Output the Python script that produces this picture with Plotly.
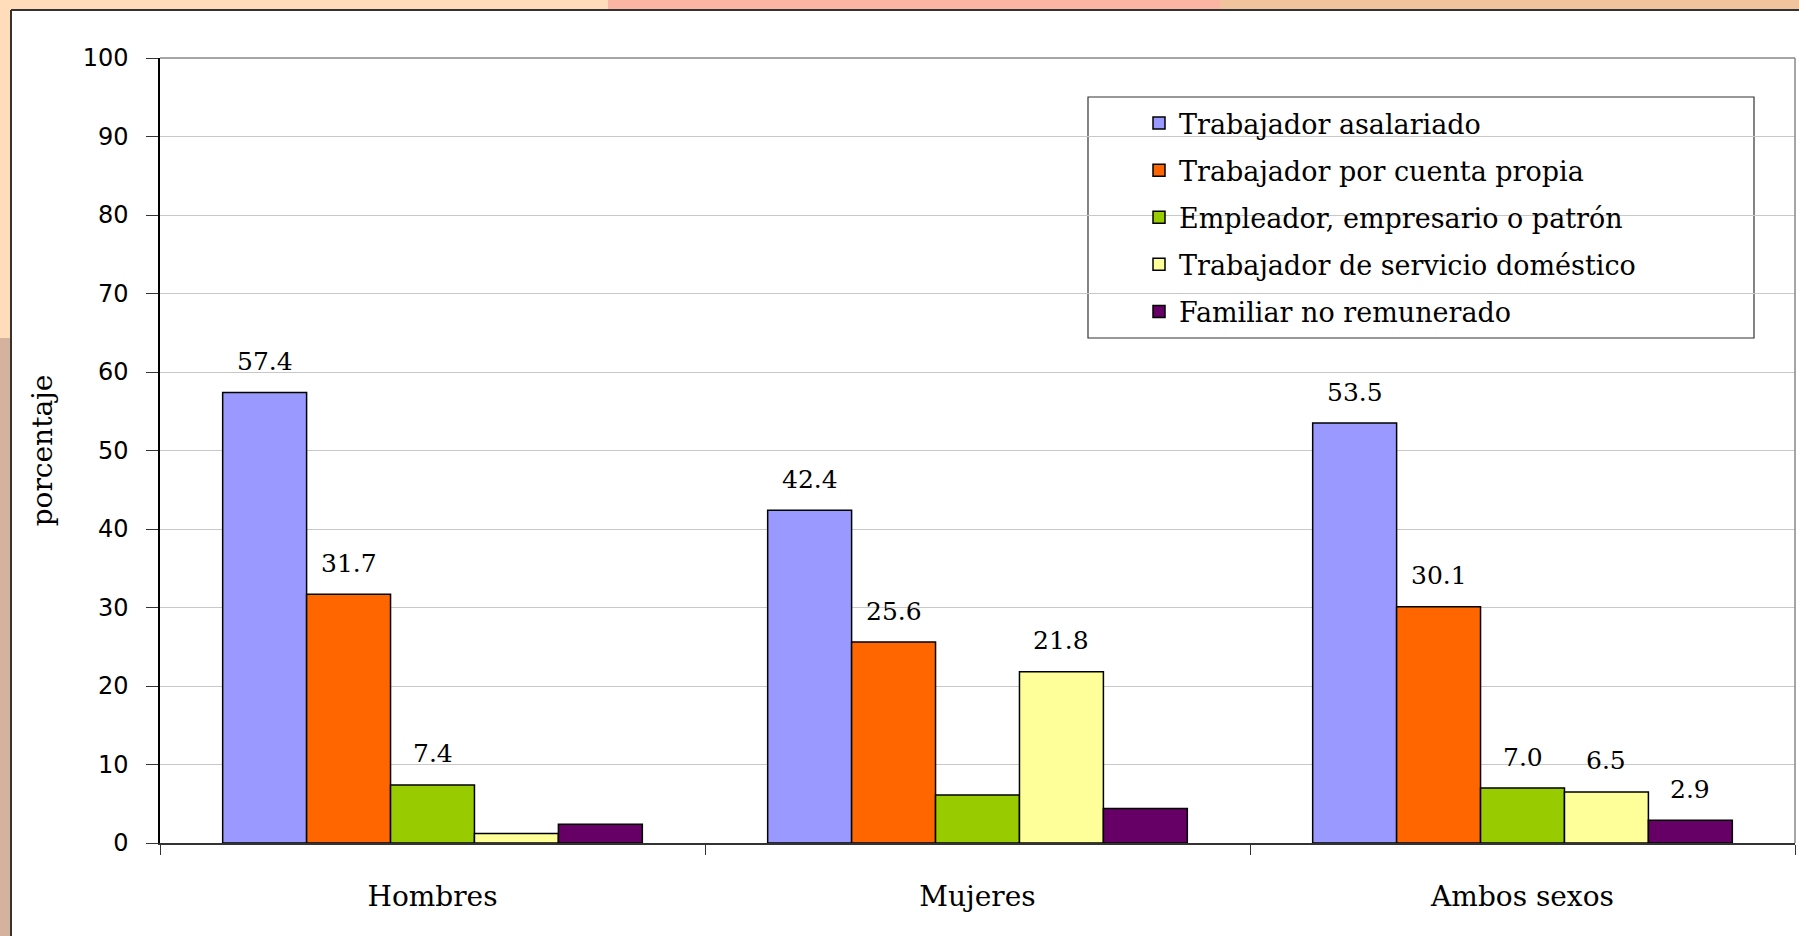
import plotly.graph_objects as go

categories = ["Hombres", "Mujeres", "Ambos sexos"]
series_names = [
    "Trabajador asalariado",
    "Trabajador por cuenta propia",
    "Empleador, empresario o patrón",
    "Trabajador de servicio doméstico",
    "Familiar no remunerado",
]
asalariado = [57.4, 42.4, 53.5]
cuenta_propia = [31.7, 25.6, 30.1]
empleador = [7.4, 6.1, 7.0]
domestico = [1.2, 21.8, 6.5]
familiar = [2.4, 4.4, 2.9]
series_values = [asalariado, cuenta_propia, empleador, domestico, familiar]
# which value labels are printed in the original
shown_labels = [
    [True, True, True],
    [True, True, True],
    [True, False, True],
    [False, True, True],
    [False, False, True],
]
y_ticks = list(range(0, 101, 10))
colors = ["#9999FF", "#FF6600", "#99CC00", "#FFFF99", "#660066"]

W, H = 1799, 936
ML, MR, MT, MB = 160, 4, 58, 93
PW = W - ML - MR
PH = H - MT - MB
BARGAP = 0.23
bar_px = PW / len(categories) * (1 - BARGAP) / len(series_names)


def px_x(px):
    return (px - ML) / PW


def px_y(py):
    return (H - MB - py) / PH


fig = go.Figure()
for i, (name, vals) in enumerate(zip(series_names, series_values)):
    fig.add_trace(go.Bar(
        name=name, x=categories, y=vals,
        marker=dict(color=colors[i], line=dict(color="#000000", width=1.5)),
        legendgroup=f"g{i}",
        hoverinfo="x+y+name",
    ))

annotations = []
for i, vals in enumerate(series_values):
    for j, v in enumerate(vals):
        if shown_labels[i][j]:
            annotations.append(dict(
                x=categories[j], y=v, xref="x", yref="y",
                text=f"{v:.1f}", showarrow=False,
                xshift=(i - 2) * bar_px, yshift=31,
                font=dict(family="DejaVu Serif", size=25, color="#000000"),
            ))

shapes = [
    # top strip
    dict(type="rect", xref="paper", yref="paper", x0=px_x(0), x1=px_x(608), y0=px_y(0), y1=px_y(10),
         fillcolor="#FFDDBB", line=dict(width=0), layer="below"),
    dict(type="rect", xref="paper", yref="paper", x0=px_x(608), x1=px_x(1220), y0=px_y(0), y1=px_y(10),
         fillcolor="#FCB5A3", line=dict(width=0), layer="below"),
    dict(type="rect", xref="paper", yref="paper", x0=px_x(1220), x1=px_x(W), y0=px_y(0), y1=px_y(10),
         fillcolor="#F2C49E", line=dict(width=0), layer="below"),
    # left strip
    dict(type="rect", xref="paper", yref="paper", x0=px_x(0), x1=px_x(11), y0=px_y(0), y1=px_y(338),
         fillcolor="#FFDDBB", line=dict(width=0), layer="below"),
    dict(type="rect", xref="paper", yref="paper", x0=px_x(0), x1=px_x(11), y0=px_y(338), y1=px_y(H),
         fillcolor="#D4B29D", line=dict(width=0), layer="below"),
    # panel border
    dict(type="line", xref="paper", yref="paper", x0=px_x(11), x1=px_x(W), y0=px_y(10), y1=px_y(10),
         line=dict(color="#333333", width=2)),
    dict(type="line", xref="paper", yref="paper", x0=px_x(11), x1=px_x(11), y0=px_y(10), y1=px_y(H),
         line=dict(color="#333333", width=2)),
    # plot area top / right border
    dict(type="line", xref="paper", yref="paper", x0=0, x1=1, y0=1, y1=1,
         line=dict(color="#888888", width=1.5)),
    dict(type="line", xref="paper", yref="paper", x0=1, x1=1, y0=0, y1=1,
         line=dict(color="#888888", width=1.5)),
    # legend box
    dict(type="rect", xref="paper", yref="paper", x0=px_x(1088), x1=px_x(1754), y0=px_y(97), y1=px_y(338),
         fillcolor="#FFFFFF", line=dict(color="#333333", width=1.2), layer="below"),
]

fig.update_layout(
    width=W, height=H,
    margin=dict(l=ML, r=MR, t=MT, b=MB, pad=0),
    paper_bgcolor="#FFFFFF", plot_bgcolor="rgba(0,0,0,0)",
    barmode="group", bargap=BARGAP, bargroupgap=0,
    showlegend=True,
    legend=dict(
        x=px_x(1139), y=px_y(99), xanchor="left", yanchor="top",
        bgcolor="rgba(0,0,0,0)", borderwidth=0,
        font=dict(family="DejaVu Serif", size=27, color="#000000"),
        tracegroupgap=9,
    ),
    xaxis=dict(
        type="category", showline=True, linecolor="#333333", linewidth=1.5,
        ticks="outside", tickson="boundaries", ticklen=10, tickcolor="#333333",
        tickfont=dict(family="DejaVu Serif", size=28, color="#000000"),
        ticklabelstandoff=28, showgrid=False,
    ),
    yaxis=dict(
        range=[0, 100], tickvals=y_ticks, ticktext=[str(t) for t in y_ticks],
        showline=True, linecolor="#000000", linewidth=1.5,
        ticks="outside", ticklen=12, tickcolor="#333333",
        tickfont=dict(family="DejaVu Sans", size=24, color="#000000"),
        ticklabelstandoff=13,
        showgrid=True, gridcolor="#C8C8C8", gridwidth=1, zeroline=False,
        title=dict(text="porcentaje", font=dict(family="DejaVu Serif", size=28, color="#000000"), standoff=22),
    ),
    annotations=annotations,
    shapes=shapes,
)

fig.write_html("out.html", config={"displayModeBar": False},
               post_script="document.body.style.margin='0px';")
